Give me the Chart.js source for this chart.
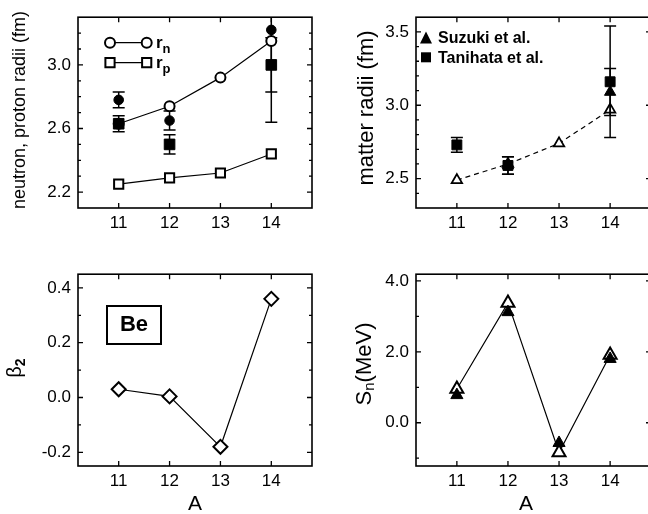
<!DOCTYPE html>
<html>
<head>
<meta charset="utf-8">
<script src="https://cdn.jsdelivr.net/npm/chart.js@4.4.1/dist/chart.umd.min.js"></script>
<style>
  html, body { margin: 0; padding: 0; background: #fff; overflow: hidden; }
  body { width: 648px; height: 514px; position: relative; }
  .panel { position: absolute; overflow: visible; }
  .panel canvas { display: block; }
</style>
</head>
<body>
<div class="panel" style="left:0;top:0;width:324px;height:257px"><canvas id="radii" width="324" height="257" style="width:324px;height:257px"></canvas></div>
<div class="panel" style="left:324px;top:0;width:330px;height:257px"><canvas id="matter" width="330" height="257" style="width:330px;height:257px"></canvas></div>
<div class="panel" style="left:0;top:257px;width:324px;height:257px"><canvas id="beta" width="324" height="257" style="width:324px;height:257px"></canvas></div>
<div class="panel" style="left:324px;top:257px;width:330px;height:257px"><canvas id="sn" width="330" height="257" style="width:330px;height:257px"></canvas></div>
<script>
// mass number A on every x axis
const A = [11, 12, 13, 14];

// top left: calculated neutron / proton radii (fm)
const rnCalc = [2.63, 2.74, 2.92, 3.15];
const rpCalc = [2.25, 2.29, 2.32, 2.44];
// top left: experimental points with errors
const expA = [11, 12, 14];
const rnExp = [2.78, 2.65, 3.22];
const rnExpErr = [0.05, 0.06, 0.58];
const rpExp = [2.63, 2.50, 3.00];
const rpExpErr = [0.05, 0.06, 0.17];

// top right: matter radii (fm)
const rmCalc = [2.49, 2.60, 2.74, 2.97];
const tanihataA = [11, 12, 14];
const tanihataRm = [2.73, 2.59, 3.16];
const tanihataErr = [0.05, 0.06, 0.38];
const suzukiA = [12, 14];
const suzukiRm = [2.59, 3.09];
const suzukiErr = [0.06, 0.16];

// bottom left: quadrupole deformation
const beta2 = [0.03, 0.004, -0.18, 0.36];

// bottom right: neutron separation energy (MeV)
const snCalc = [0.95, 3.38, -0.84, 1.91];
const snExp = [0.78, 3.12, -0.57, 1.80];

// y ticks: every value gets a tick mark, labels only on some
const radiiTicks = [2.2, 2.3, 2.4, 2.5, 2.6, 2.7, 2.8, 2.9, 3.0, 3.1, 3.2];
const radiiLabels = [2.2, 2.6, 3.0];
const matterTicks = [2.4, 2.5, 2.6, 2.7, 2.8, 2.9, 3.0, 3.1, 3.2, 3.3, 3.4, 3.5];
const matterLabels = [2.5, 3.0, 3.5];
const betaTicks = [-0.2, -0.1, 0.0, 0.1, 0.2, 0.3, 0.4];
const betaLabels = [-0.2, 0.0, 0.2, 0.4];
const snTicks = [-1, 0, 1, 2, 3, 4];
const snLabels = [0, 2, 4];

const FONT = "'Liberation Sans', Arial, Helvetica, sans-serif";
Chart.defaults.font.family = FONT;
Chart.defaults.color = '#000';

const pts = (xs, ys) => xs.map((x, i) => ({ x: x, y: ys[i] }));

// error bars, drawn through the chart scales
function makeErrorBars(onTop) {
  function draw(chart) {
    const ctx = chart.ctx, a = chart.chartArea;
    const xs = chart.scales.x, ys = chart.scales.y;
    ctx.save();
    ctx.beginPath();
    ctx.rect(a.left, a.top, a.right - a.left, a.bottom - a.top);
    ctx.clip();
    ctx.strokeStyle = '#000';
    ctx.lineWidth = 1.5;
    chart.data.datasets.forEach(ds => {
      if (!ds.errors) return;
      ds.data.forEach((p, i) => {
        const e = ds.errors[i];
        const px = xs.getPixelForValue(p.x);
        const y1 = ys.getPixelForValue(p.y + e);
        const y2 = ys.getPixelForValue(p.y - e);
        ctx.beginPath();
        ctx.moveTo(px, y1); ctx.lineTo(px, y2);
        ctx.moveTo(px - 6, y1); ctx.lineTo(px + 6, y1);
        ctx.moveTo(px - 6, y2); ctx.lineTo(px + 6, y2);
        ctx.stroke();
      });
    });
    ctx.restore();
  }
  return {
    id: 'errorBars',
    beforeDatasetsDraw(chart) { if (!onTop) draw(chart); },
    afterDatasetsDraw(chart) { if (onTop) draw(chart); }
  };
}

// closed frame with inward ticks on all four sides
const frame = {
  id: 'frame',
  afterDraw(chart) {
    const ctx = chart.ctx, a = chart.chartArea;
    const xs = chart.scales.x, ys = chart.scales.y;
    ctx.save();
    ctx.strokeStyle = '#000';
    ctx.lineWidth = 1.6;
    ctx.strokeRect(a.left, a.top, a.right - a.left, a.bottom - a.top);
    ctx.lineWidth = 1.3;
    ctx.beginPath();
    xs.ticks.forEach(t => {
      const px = xs.getPixelForValue(t.value);
      ctx.moveTo(px, a.bottom); ctx.lineTo(px, a.bottom - 5);
      ctx.moveTo(px, a.top); ctx.lineTo(px, a.top + 5);
    });
    ys.ticks.forEach(t => {
      const py = ys.getPixelForValue(t.value);
      const len = t.label ? 5 : 3;
      ctx.moveTo(a.left, py); ctx.lineTo(a.left + len, py);
      ctx.moveTo(a.right, py); ctx.lineTo(a.right - len, py);
    });
    ctx.stroke();
    ctx.restore();
  }
};

// text with subscripts: parts = [text, size, bold, dy]
function rich(ctx, parts, x, y, rotate, align, baseline) {
  ctx.save();
  ctx.translate(x, y);
  if (rotate) ctx.rotate(-Math.PI / 2);
  ctx.fillStyle = '#000';
  ctx.textBaseline = baseline || 'middle';
  ctx.textAlign = 'left';
  const fnt = p => (p[2] ? 'bold ' : '') + p[1] + 'px ' + FONT;
  const widths = parts.map(p => { ctx.font = fnt(p); return ctx.measureText(p[0]).width; });
  const total = widths.reduce((s, w) => s + w, 0);
  let cx = align === 'center' ? -total / 2 : 0;
  parts.forEach((p, i) => {
    ctx.font = fnt(p);
    ctx.fillText(p[0], cx, p[3] || 0);
    cx += widths[i];
  });
  ctx.restore();
}

function makeNotes(fn) {
  return { id: 'notes', afterDraw(chart) { fn(chart.ctx); } };
}

function near(list, v) { return list.some(l => Math.abs(l - v) < 1e-6); }

function baseOptions(area, yMin, yMax, yTicks, yLabels, yPad) {
  return {
    responsive: false,
    animation: false,
    devicePixelRatio: 1,
    layout: { autoPadding: false, padding: { top: area.top, right: area.right, left: 0, bottom: 0 } },
    plugins: { legend: { display: false }, tooltip: { enabled: false } },
    scales: {
      x: {
        type: 'linear', position: 'bottom', min: 10.2, max: 14.8,
        afterBuildTicks: s => { s.ticks = A.map(v => ({ value: v })); },
        ticks: { autoSkip: false, maxRotation: 0, padding: 5, font: { size: 17 }, color: '#000', callback: v => String(v) },
        grid: { display: false, drawTicks: false },
        border: { display: false },
        afterFit: s => { s.height = area.xh; s.paddingLeft = 0; s.paddingRight = 0; }
      },
      y: {
        type: 'linear', position: 'left', min: yMin, max: yMax,
        afterBuildTicks: s => { s.ticks = yTicks.map(v => ({ value: v })); },
        ticks: {
          autoSkip: false, padding: yPad, font: { size: 17 }, color: '#000',
          callback: v => near(yLabels, v) ? v.toFixed(1) : ''
        },
        grid: { display: false, drawTicks: false },
        border: { display: false },
        afterFit: s => { s.width = area.yw; }
      }
    }
  };
}

const black = '#000', white = '#fff';

// ---- top left: neutron, proton radii
new Chart(document.getElementById('radii'), {
  type: 'scatter',
  data: {
    datasets: [
      { data: pts(expA, rpExp), errors: rpExpErr, pointStyle: 'rect', pointRadius: 7.5, pointHoverRadius: 7.5,
        pointBackgroundColor: black, pointBorderColor: black, pointBorderWidth: 1 },
      { data: pts(expA, rnExp), errors: rnExpErr, pointStyle: 'circle', pointRadius: 4.8, pointHoverRadius: 4.8,
        pointBackgroundColor: black, pointBorderColor: black, pointBorderWidth: 1 },
      { data: pts(A, rnCalc), showLine: true, borderColor: black, borderWidth: 1.2,
        pointStyle: 'circle', pointRadius: 5, pointHoverRadius: 5,
        pointBackgroundColor: white, pointBorderColor: black, pointBorderWidth: 2 },
      { data: pts(A, rpCalc), showLine: true, borderColor: black, borderWidth: 1.2,
        pointStyle: 'rect', pointRadius: 6.5, pointHoverRadius: 6.5,
        pointBackgroundColor: white, pointBorderColor: black, pointBorderWidth: 2 }
    ]
  },
  options: baseOptions({ top: 12, right: 12, yw: 78, xh: 49 }, 2.1, 3.3, radiiTicks, radiiLabels, 7),
  plugins: [makeErrorBars(false), frame, makeNotes(ctx => {
    rich(ctx, [['neutron, proton radii (fm)', 18]], 20, 110, true, 'center');
    ctx.save();
    ctx.strokeStyle = black; ctx.fillStyle = white; ctx.lineWidth = 1.2;
    ctx.beginPath(); ctx.moveTo(110, 42.7); ctx.lineTo(146.7, 42.7);
    ctx.moveTo(110, 62.7); ctx.lineTo(146.7, 62.7); ctx.stroke();
    ctx.lineWidth = 2;
    [110, 146.7].forEach(x => {
      ctx.beginPath(); ctx.arc(x, 42.7, 5, 0, Math.PI * 2); ctx.fill(); ctx.stroke();
      ctx.beginPath(); ctx.rect(x - 4.6, 62.7 - 4.6, 9.2, 9.2); ctx.fill(); ctx.stroke();
    });
    ctx.restore();
    rich(ctx, [['r', 17, true], ['n', 13, true, 5]], 156, 48, false, 'left', 'alphabetic');
    rich(ctx, [['r', 17, true], ['p', 13, true, 5]], 156, 68, false, 'left', 'alphabetic');
  })]
});

// ---- top right: matter radii
new Chart(document.getElementById('matter'), {
  type: 'scatter',
  data: {
    datasets: [
      { data: pts(tanihataA, tanihataRm), errors: tanihataErr, pointStyle: 'rect', pointRadius: 7, pointHoverRadius: 7,
        pointBackgroundColor: black, pointBorderColor: black, pointBorderWidth: 1 },
      { data: pts(suzukiA, suzukiRm), errors: suzukiErr, pointStyle: 'triangle', pointRadius: 6.5, pointHoverRadius: 6.5,
        pointBackgroundColor: black, pointBorderColor: black, pointBorderWidth: 1 },
      { data: pts(A, rmCalc), showLine: true, borderColor: black, borderWidth: 1.2, borderDash: [5, 4],
        pointStyle: 'triangle', pointRadius: 6, pointHoverRadius: 6,
        pointBackgroundColor: white, pointBorderColor: black, pointBorderWidth: 1.8 }
    ]
  },
  options: baseOptions({ top: 12, right: 3, yw: 92, xh: 49 }, 2.3, 3.6, matterTicks, matterLabels, 7),
  plugins: [makeErrorBars(true), frame, makeNotes(ctx => {
    rich(ctx, [['matter radii (fm)', 22]], 43, 108, true, 'center');
    ctx.save();
    ctx.fillStyle = black;
    ctx.beginPath(); ctx.moveTo(102, 31.5); ctx.lineTo(108, 43.5); ctx.lineTo(96, 43.5); ctx.closePath(); ctx.fill();
    ctx.fillRect(97, 52.3, 10, 10);
    ctx.restore();
    rich(ctx, [['Suzuki et al.', 16, true]], 114, 43.3, false, 'left', 'alphabetic');
    rich(ctx, [['Tanihata et al.', 16, true]], 114, 62.7, false, 'left', 'alphabetic');
  })]
});

// ---- bottom left: beta_2
new Chart(document.getElementById('beta'), {
  type: 'scatter',
  data: {
    datasets: [
      { data: pts(A, beta2), showLine: true, borderColor: black, borderWidth: 1.2,
        pointStyle: 'rectRot', pointRadius: 7, pointHoverRadius: 7,
        pointBackgroundColor: white, pointBorderColor: black, pointBorderWidth: 2 }
    ]
  },
  options: baseOptions({ top: 13, right: 12, yw: 78, xh: 48 }, -0.25, 0.45, betaTicks, betaLabels, 7),
  plugins: [frame, makeNotes(ctx => {
    rich(ctx, [['\u03b2', 20], ['2', 14, true, 6]], 15, 111, true, 'center');
    ctx.save();
    ctx.strokeStyle = black; ctx.lineWidth = 2;
    ctx.strokeRect(107, 49, 54, 38);
    ctx.restore();
    rich(ctx, [['Be', 22, true]], 134, 68, false, 'center');
    rich(ctx, [['A', 21]], 195, 247, false, 'center');
  })]
});

// ---- bottom right: S_n
new Chart(document.getElementById('sn'), {
  type: 'scatter',
  data: {
    datasets: [
      { data: pts(A, snExp), pointStyle: 'triangle', pointRadius: 7, pointHoverRadius: 7,
        pointBackgroundColor: black, pointBorderColor: black, pointBorderWidth: 1 },
      { data: pts(A, snCalc), showLine: true, borderColor: black, borderWidth: 1.2,
        pointStyle: 'triangle', pointRadius: 7.5, pointHoverRadius: 7.5,
        pointBackgroundColor: white, pointBorderColor: black, pointBorderWidth: 2 }
    ]
  },
  options: baseOptions({ top: 13, right: 3, yw: 92, xh: 48 }, -1.22, 4.19, snTicks, snLabels, 7),
  plugins: [frame, makeNotes(ctx => {
    rich(ctx, [['S', 22], ['n', 15, false, 5], ['(MeV)', 22]], 41, 107, true, 'center');
    rich(ctx, [['A', 21]], 202, 247, false, 'center');
  })]
});
</script>
</body>
</html>
